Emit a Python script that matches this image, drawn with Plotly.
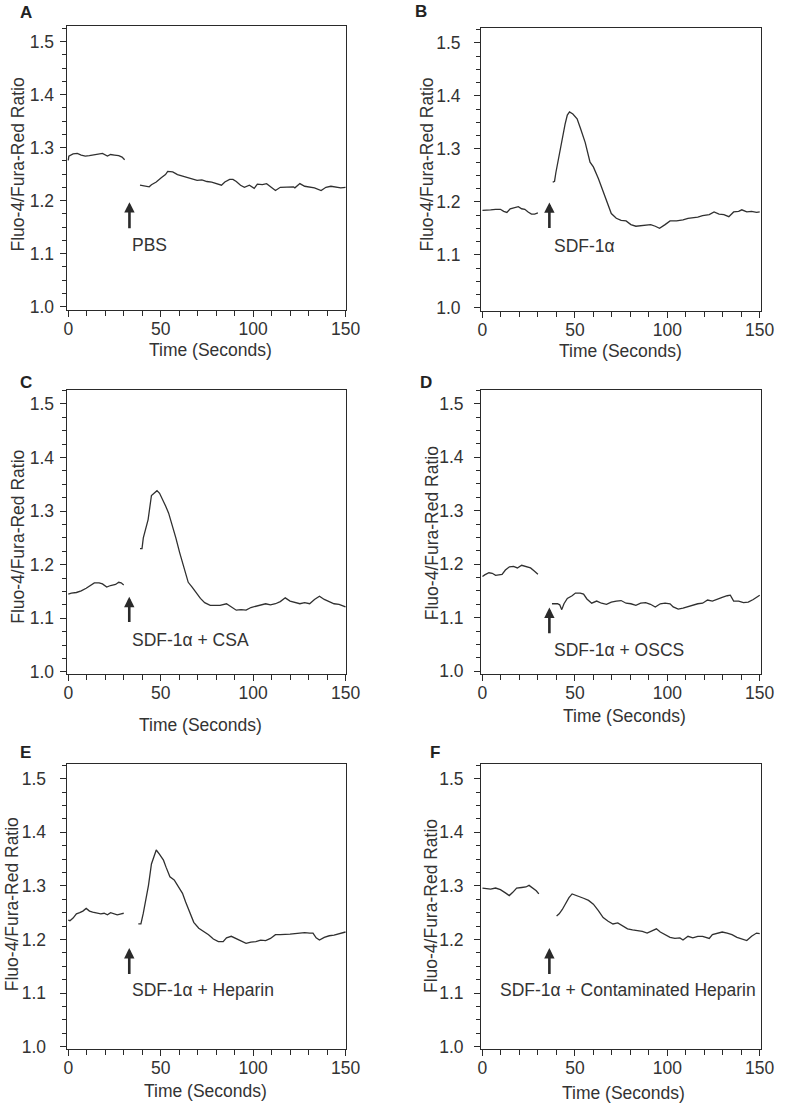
import plotly.graph_objects as go

# ---------------- data ----------------
panel_letters = ["A", "B", "C", "D", "E", "F"]
stimulus_labels = ["PBS", "SDF-1α", "SDF-1α + CSA", "SDF-1α + OSCS",
                   "SDF-1α + Heparin", "SDF-1α + Contaminated Heparin"]
x_title = "Time (Seconds)"
y_title = "Fluo-4/Fura-Red Ratio"
x_ticks = [0, 50, 100, 150]
y_ticks = [1.0, 1.1, 1.2, 1.3, 1.4, 1.5]

# Panel A (PBS)
tA1 = [0, 0.3, 2.6, 4.9, 7.0, 9.2, 11.4, 14.1, 16.7, 18.5, 21.2, 22.9, 25.0, 27.3, 29.1, 30.5]
rA1 = [1.276, 1.284, 1.288, 1.289, 1.286, 1.284, 1.285, 1.286, 1.287, 1.289, 1.284, 1.287, 1.286, 1.285, 1.282, 1.277]
tA2 = [38.8, 41.5, 43.8, 45.0, 47.6, 50.3, 52.6, 53.8, 56.5, 59.1, 61.8, 64.4, 67.1, 69.7, 72.3, 75.0,
       77.6, 80.3, 82.9, 84.7, 87.3, 89.1, 90.9, 93.2, 95.3, 98.0, 100.6, 102.3, 105.0, 107.3, 109.4,
       112.1, 114.7, 118.2, 121.8, 122.6, 125.3, 127.9, 130.6, 133.2, 136.8, 139.4, 142.1, 144.7, 147.4, 150.0]
rA2 = [1.229, 1.228, 1.226, 1.230, 1.235, 1.243, 1.249, 1.255, 1.254, 1.249, 1.246, 1.244, 1.241, 1.238,
       1.239, 1.236, 1.235, 1.232, 1.229, 1.235, 1.240, 1.240, 1.236, 1.229, 1.225, 1.229, 1.223, 1.231,
       1.230, 1.232, 1.227, 1.219, 1.225, 1.225, 1.226, 1.224, 1.232, 1.227, 1.225, 1.224, 1.219, 1.225,
       1.227, 1.226, 1.224, 1.225]

# Panel B (SDF-1a)
tB1 = [0, 1.8, 4.4, 7.1, 9.7, 11.5, 13.2, 15.0, 17.6, 19.4, 21.2, 22.9, 24.7, 26.5, 28.2, 30.0]
rB1 = [1.184, 1.184, 1.185, 1.186, 1.186, 1.182, 1.180, 1.187, 1.190, 1.191, 1.187, 1.186, 1.181, 1.177, 1.177, 1.179]
tB2 = [38.0, 39.0, 39.7, 40.6, 41.8, 43.2, 44.7, 45.9, 47.1, 48.9, 51.2, 53.0, 55.6, 58.2, 60.0, 62.7,
       65.3, 67.6, 69.7, 72.4, 75.0, 77.7, 80.3, 83.0, 85.6, 88.3, 91.0, 93.5, 95.8, 98.8, 101.5, 105.0,
       108.5, 111.2, 113.8, 116.5, 119.1, 122.7, 125.3, 128.0, 130.6, 133.3, 135.9, 138.6, 140.3, 143.0,
       145.6, 148.3, 150.0]
rB2 = [1.237, 1.239, 1.255, 1.272, 1.289, 1.319, 1.347, 1.364, 1.370, 1.366, 1.357, 1.339, 1.312, 1.275,
       1.266, 1.244, 1.219, 1.195, 1.178, 1.169, 1.165, 1.164, 1.157, 1.154, 1.155, 1.157, 1.157, 1.154,
       1.150, 1.157, 1.164, 1.164, 1.166, 1.169, 1.170, 1.171, 1.174, 1.176, 1.181, 1.177, 1.176, 1.172,
       1.181, 1.182, 1.185, 1.181, 1.182, 1.180, 1.181]

# Panel C (SDF-1a + CSA)
tC1 = [0, 1.7, 4.4, 7.0, 9.7, 12.3, 14.1, 16.7, 18.5, 20.8, 22.9, 25.6, 27.3, 28.6, 30.0]
rC1 = [1.145, 1.147, 1.148, 1.151, 1.156, 1.161, 1.166, 1.166, 1.164, 1.158, 1.161, 1.163, 1.167, 1.166, 1.162]
tC2 = [38.8, 39.9, 40.6, 42.0, 43.2, 45.0, 46.8, 48.0, 49.4, 50.8, 52.6, 54.3, 56.5, 58.2, 60.3, 62.6,
       64.9, 67.0, 69.2, 71.5, 73.8, 76.8, 79.4, 82.1, 85.6, 88.2, 90.9, 93.5, 96.2, 98.8, 101.5, 104.1,
       106.8, 109.4, 112.1, 114.7, 117.4, 120.0, 122.6, 125.3, 127.9, 130.6, 133.2, 135.9, 138.5, 141.2,
       143.8, 146.5, 149.1, 150.0]
rC2 = [1.230, 1.230, 1.250, 1.266, 1.284, 1.329, 1.335, 1.338, 1.333, 1.324, 1.310, 1.296, 1.272, 1.250,
       1.222, 1.192, 1.167, 1.158, 1.148, 1.137, 1.129, 1.124, 1.124, 1.124, 1.127, 1.121, 1.115, 1.116,
       1.115, 1.120, 1.122, 1.124, 1.127, 1.125, 1.127, 1.131, 1.138, 1.132, 1.130, 1.127, 1.129, 1.127,
       1.135, 1.141, 1.135, 1.131, 1.127, 1.126, 1.122, 1.121]

# Panel D (SDF-1a + OSCS)
tD1 = [0, 1.2, 3.5, 5.3, 7.1, 8.8, 10.6, 12.4, 14.6, 16.8, 18.9, 21.2, 23.8, 26.0, 27.7, 30.0]
rD1 = [1.177, 1.180, 1.184, 1.183, 1.179, 1.180, 1.181, 1.189, 1.195, 1.196, 1.193, 1.198, 1.195, 1.193, 1.188, 1.181]
tD2 = [37.6, 40.6, 41.8, 42.9, 44.1, 45.9, 48.5, 50.3, 52.9, 54.7, 56.5, 59.1, 61.8, 64.4, 67.1, 69.7,
       72.4, 75.0, 77.7, 80.3, 83.0, 85.6, 88.3, 90.9, 93.5, 96.2, 98.8, 101.5, 103.2, 105.9, 108.5, 111.2,
       113.8, 116.5, 119.1, 121.8, 124.4, 127.1, 129.7, 132.4, 134.1, 135.9, 138.6, 141.2, 143.8, 146.5,
       149.1, 150.0]
rD2 = [1.126, 1.126, 1.124, 1.115, 1.126, 1.136, 1.141, 1.146, 1.146, 1.144, 1.135, 1.127, 1.131, 1.127,
       1.125, 1.129, 1.131, 1.132, 1.127, 1.126, 1.123, 1.127, 1.128, 1.125, 1.120, 1.126, 1.127, 1.126,
       1.120, 1.116, 1.118, 1.121, 1.123, 1.126, 1.127, 1.133, 1.131, 1.135, 1.138, 1.141, 1.142, 1.131,
       1.131, 1.128, 1.129, 1.134, 1.139, 1.142]

# Panel E (SDF-1a + Heparin)
tE1 = [0, 0.9, 2.6, 4.4, 6.2, 7.9, 9.7, 11.5, 13.2, 15.9, 17.6, 19.4, 21.2, 22.9, 24.7, 26.5, 28.6, 30.0]
rE1 = [1.236, 1.235, 1.240, 1.248, 1.250, 1.253, 1.258, 1.253, 1.251, 1.249, 1.248, 1.249, 1.246, 1.250,
       1.248, 1.246, 1.248, 1.249]
tE2 = [37.9, 39.3, 40.6, 42.0, 43.4, 45.0, 46.2, 47.6, 49.4, 51.5, 52.9, 55.0, 57.3, 59.6, 61.8, 63.5,
       65.6, 67.9, 70.6, 73.2, 75.9, 78.5, 81.2, 83.8, 85.6, 88.2, 90.9, 93.5, 96.2, 98.8, 101.5, 104.1,
       106.8, 109.4, 112.1, 114.7, 117.4, 120.0, 122.6, 125.3, 127.9, 130.6, 132.4, 134.1, 135.9, 138.5,
       141.2, 143.8, 146.5, 149.1, 150.0]
rE2 = [1.229, 1.229, 1.249, 1.273, 1.301, 1.341, 1.354, 1.367, 1.359, 1.348, 1.335, 1.317, 1.311, 1.299,
       1.286, 1.270, 1.252, 1.232, 1.221, 1.215, 1.209, 1.201, 1.196, 1.196, 1.203, 1.206, 1.202, 1.198,
       1.193, 1.195, 1.196, 1.199, 1.198, 1.202, 1.209, 1.209, 1.209, 1.210, 1.211, 1.212, 1.213, 1.212,
       1.212, 1.203, 1.199, 1.204, 1.207, 1.208, 1.211, 1.214, 1.214]

# Panel F (SDF-1a + Contaminated Heparin)
tF1 = [0, 1.8, 4.4, 7.1, 9.7, 12.4, 14.5, 16.4, 18.5, 21.2, 23.5, 25.2, 27.0, 29.1, 30.5]
rF1 = [1.296, 1.295, 1.294, 1.296, 1.293, 1.287, 1.282, 1.288, 1.296, 1.297, 1.298, 1.301, 1.296, 1.291, 1.285]
tF2 = [40.1, 41.5, 43.2, 45.0, 46.8, 48.5, 50.3, 52.1, 54.7, 57.4, 60.0, 62.7, 65.3, 68.0, 70.6, 73.2,
       75.9, 78.5, 81.2, 83.8, 86.5, 89.1, 91.8, 94.1, 96.2, 98.8, 101.5, 104.1, 106.8, 108.5, 111.2,
       113.8, 116.5, 119.1, 122.7, 124.4, 127.1, 129.7, 132.4, 135.0, 137.7, 140.3, 143.0, 145.6, 148.3, 150.0]
rF2 = [1.244, 1.248, 1.256, 1.267, 1.278, 1.285, 1.283, 1.280, 1.277, 1.273, 1.266, 1.254, 1.241, 1.234,
       1.229, 1.231, 1.225, 1.220, 1.218, 1.217, 1.215, 1.212, 1.217, 1.220, 1.214, 1.209, 1.204, 1.202,
       1.203, 1.199, 1.206, 1.203, 1.206, 1.206, 1.202, 1.209, 1.212, 1.214, 1.212, 1.209, 1.204, 1.201,
       1.198, 1.206, 1.212, 1.211]

# arrow (time, tail ratio, head ratio) and label anchor (time, ratio) per panel
arrow_t = [33.1, 36.2, 33.0, 36.2, 33.0, 36.2]
arrow_tail = [1.145, 1.148, 1.090, 1.068, 1.133, 1.133]
arrow_head = [1.197, 1.199, 1.140, 1.119, 1.184, 1.184]
label_t = [33.5, 37.4, 33.5, 37.4, 33.5, 8.5]
label_r = [1.116, 1.116, 1.059, 1.039, 1.105, 1.105]

segments = [
    ((tA1, rA1), (tA2, rA2)),
    ((tB1, rB1), (tB2, rB2)),
    ((tC1, rC1), (tC2, rC2)),
    ((tD1, rD1), (tD2, rD2)),
    ((tE1, rE1), (tE2, rE2)),
    ((tF1, rF1), (tF2, rF2)),
]

# ---------------- layout geometry (pixels in a 790 x 1114 page) ----------------
W, H = 790, 1114
FONT = "Liberation Sans, Arial, Helvetica, sans-serif"
TXT = "#333333"
LINE = "#2a2a2a"

# plot boxes: (left, right, top, bottom) in px
boxes = [(65, 351, 26, 312), (488.5, 774.3, 28, 313),
         (65, 351, 392.7, 679), (488.5, 774.3, 392.7, 679),
         (65, 351, 770, 1057), (488.5, 774.3, 770, 1057)]
x_ranges = [(-0.9, 150.5), (-0.8, 150.5), (-0.9, 150.5), (-0.8, 150.5), (-0.9, 150.5), (-0.8, 150.5)]
y_ranges = [(0.9938, 1.530), (0.9944, 1.5287), (0.9957, 1.526), (0.9944, 1.526), (0.995, 1.5265), (0.995, 1.5265)]
ylab_standoff = [2, 10, 2, 7, 10, 7]
# axis-title centres (px)
ytitle_pos = [(15, 166), (433, 166), (15, 541), (438, 537.5), (10, 911), (438, 913)]
xtitle_pos = [(212, 353), (631, 354), (202, 730), (635, 721), (207, 1099), (634, 1101)]
letter_pos = [(23, 13), (427, 12), (23, 385), (432, 385), (22.5, 758), (441, 758)]

fig = go.Figure()
annotations = []
for i in range(6):
    sfx = "" if i == 0 else str(i + 1)
    xa, ya = "x" + sfx, "y" + sfx
    for (t, r) in segments[i]:
        fig.add_trace(go.Scatter(x=t, y=r, mode="lines", xaxis=xa, yaxis=ya,
                                 line=dict(color="#303030", width=1.3), showlegend=False,
                                 hoverinfo="skip"))
    l, rgt, top, bot = boxes[i]
    fig.update_layout(**{
        "xaxis" + sfx: dict(
            domain=[l / W, rgt / W], anchor=ya, range=list(x_ranges[i]),
            tickvals=x_ticks, ticks="outside", ticklen=6, tickwidth=1, tickcolor=LINE,
            minor=dict(dtick=10, tick0=0, ticks="outside", ticklen=5, tickwidth=1, tickcolor=LINE),
            showline=True, linecolor=LINE, linewidth=1, mirror=True, showgrid=False, zeroline=False,
            tickfont=dict(family=FONT, size=17.5, color=TXT), ticklabelstandoff=-3),
        "yaxis" + sfx: dict(
            domain=[1 - bot / H, 1 - top / H], anchor=xa, range=list(y_ranges[i]),
            tickvals=y_ticks, tickformat=".1f", ticks="outside", ticklen=6, tickwidth=1, tickcolor=LINE,
            minor=dict(dtick=0.025, tick0=1.0, ticks="outside", ticklen=4, tickwidth=1, tickcolor=LINE),
            showline=True, linecolor=LINE, linewidth=1, mirror=True, showgrid=False, zeroline=False,
            tickfont=dict(family=FONT, size=17.5, color=TXT), ticklabelstandoff=ylab_standoff[i]),
    })
    # stimulus arrow
    annotations.append(dict(xref=xa, yref=ya, axref=xa, ayref=ya,
                            x=arrow_t[i], y=arrow_head[i], ax=arrow_t[i], ay=arrow_tail[i],
                            text="", showarrow=True, arrowhead=2, arrowsize=0.8, arrowwidth=2.6,
                            arrowcolor="#2a2a2a", standoff=0, startstandoff=0))
    # stimulus label
    annotations.append(dict(xref=xa, yref=ya, x=label_t[i], y=label_r[i], text=stimulus_labels[i],
                            showarrow=False, xanchor="left", yanchor="middle",
                            font=dict(family=FONT, size=17.5, color=TXT)))
    # axis titles
    yx, yy = ytitle_pos[i]
    annotations.append(dict(xref="paper", yref="paper", x=yx / W, y=1 - yy / H, text=y_title,
                            textangle=-90, showarrow=False, xanchor="center", yanchor="middle",
                            font=dict(family=FONT, size=17.5, color=TXT)))
    xx, xy = xtitle_pos[i]
    annotations.append(dict(xref="paper", yref="paper", x=xx / W, y=1 - xy / H, text=x_title,
                            showarrow=False, xanchor="center", yanchor="middle",
                            font=dict(family=FONT, size=17.5, color=TXT)))
    lx, ly = letter_pos[i]
    annotations.append(dict(xref="paper", yref="paper", x=lx / W, y=1 - ly / H,
                            text="<b>" + panel_letters[i] + "</b>", showarrow=False,
                            xanchor="center", yanchor="middle",
                            font=dict(family=FONT, size=17, color="#222222")))

fig.update_layout(width=W, height=H, margin=dict(l=0, r=0, t=0, b=0),
                  paper_bgcolor="white", plot_bgcolor="white", annotations=annotations,
                  showlegend=False)
fig.write_html("out.html", config={"displayModeBar": False},
               post_script="document.body.style.margin='0';document.body.style.padding='0';"
                           "document.documentElement.style.overflow='hidden';")
